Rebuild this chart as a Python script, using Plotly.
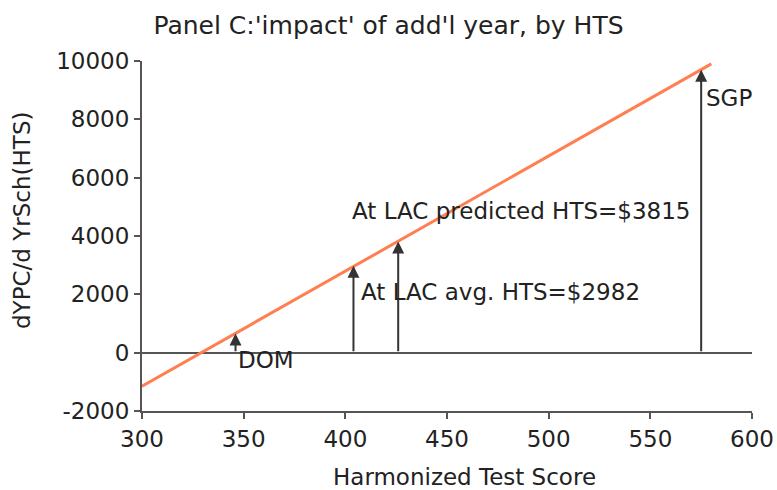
import plotly.graph_objects as go

# Data
line_x = [300, 580]
line_y = [-1150, 9900]
arrow_labels = ["DOM", "At LAC avg. HTS=$2982", "At LAC predicted HTS=$3815", "SGP"]
arrow_x = [346, 404, 426, 575]
arrow_y = [660, 2982, 3815, 9700]
x_ticks = [300, 350, 400, 450, 500, 550, 600]
x_ticktext = ["300", "350", "400", "450", "500", "550", "600"]
y_ticks = [-2000, 0, 2000, 4000, 6000, 8000, 10000]
y_ticktext = ["-2000", "0", "2000", "4000", "6000", "8000", "10000"]

FONT = "DejaVu Sans"
FS = 23
TXT = "#222222"
AX = "#555555"

W, H = 777, 490
l, r, t, b = 142, 25, 61, 79
pw, ph = W - l - r, H - t - b

fig = go.Figure()
fig.add_trace(go.Scatter(x=line_x, y=line_y, mode="lines",
                         line=dict(color="#FF7F50", width=3), showlegend=False,
                         hoverinfo="skip", cliponaxis=False))

# arrows
for lab, xv, yv in zip(arrow_labels, arrow_x, arrow_y):
    fig.add_annotation(x=xv, y=yv, ax=xv, ay=0, xref="x", yref="y",
                       axref="x", ayref="y", text="", showarrow=True,
                       arrowhead=2, arrowsize=1.2, arrowwidth=2, arrowcolor="#333333")

# labels (left edge x, centre y in data units)
label_pos = {
    "DOM": (347.3, -250),
    "At LAC avg. HTS=$2982": (407.8, 2082),
    "At LAC predicted HTS=$3815": (403.3, 4861),
    "SGP": (577.6, 8737),
}
for lab in arrow_labels:
    lx, ly = label_pos[lab]
    fig.add_annotation(x=lx, y=ly, xref="x", yref="y", text=lab, showarrow=False,
                       xanchor="left", yanchor="middle", xshift=-2,
                       font=dict(family=FONT, size=FS, color=TXT))

# axis titles placed in pixel terms
fig.add_annotation(text="Harmonized Test Score", x=(464 - l) / pw, y=-(477 - (H - b)) / ph,
                   xref="paper", yref="paper", xanchor="center", yanchor="middle",
                   showarrow=False, font=dict(family=FONT, size=FS, color=TXT))
fig.add_annotation(text="dYPC/d YrSch(HTS)", x=(22 - l) / pw, y=(H - b - 221) / ph,
                   xref="paper", yref="paper", xanchor="center", yanchor="middle",
                   showarrow=False, textangle=-90,
                   font=dict(family=FONT, size=FS, color=TXT))

fig.update_layout(
    width=W, height=H,
    margin=dict(l=l, r=r, t=t, b=b, autoexpand=False),
    paper_bgcolor="white", plot_bgcolor="white",
    title=dict(text="Panel C:'impact' of add'l year, by HTS", x=0.5, xref="container",
               xanchor="center", y=1 - 25 / H, yanchor="middle",
               font=dict(family=FONT, size=25, color=TXT)),
    font=dict(family=FONT, size=FS, color=TXT),
    xaxis=dict(range=[300, 600], tickvals=x_ticks, ticktext=x_ticktext,
               showgrid=False, zeroline=False, automargin=False,
               showline=True, linecolor=AX, linewidth=2, ticks="outside",
               ticklen=6, tickwidth=2, tickcolor=AX,
               tickfont=dict(family=FONT, size=FS, color=TXT)),
    yaxis=dict(range=[-2000, 10000], tickvals=y_ticks, ticktext=y_ticktext,
               showgrid=False, automargin=False,
               zeroline=True, zerolinecolor=AX, zerolinewidth=2,
               showline=True, linecolor=AX, linewidth=2, ticks="outside",
               ticklen=6, tickwidth=2, tickcolor=AX,
               tickfont=dict(family=FONT, size=FS, color=TXT)),
)

fig.write_html("out.html")
